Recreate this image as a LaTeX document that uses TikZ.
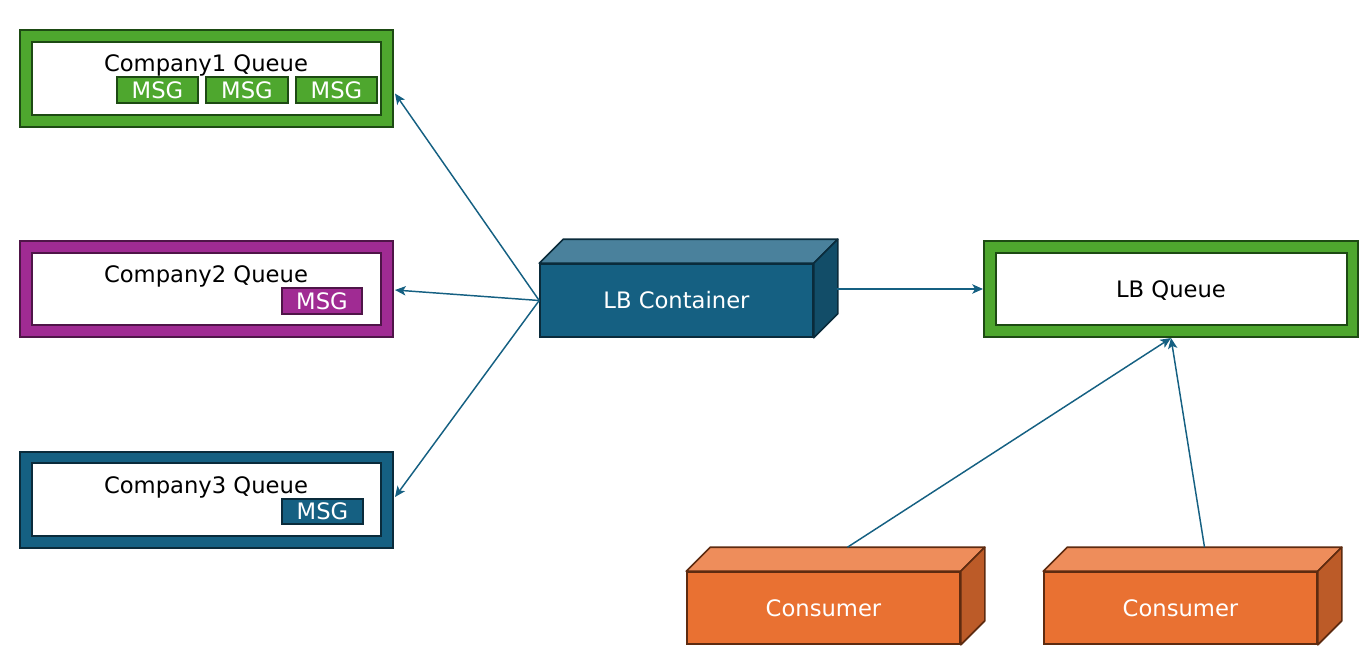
\documentclass[tikz,border=0pt]{standalone}
\usepackage{fontspec}
\setmainfont{DejaVu Sans}
\usetikzlibrary{fit,arrows.meta,calc}
\definecolor{qgreen}{HTML}{4EA72E}
\definecolor{qgreenD}{HTML}{1D4A13}
\definecolor{qpurple}{HTML}{A02B93}
\definecolor{qpurpleD}{HTML}{4F1548}
\definecolor{qblue}{HTML}{156082}
\definecolor{qblueD}{HTML}{0A2B3B}
\definecolor{qblueT}{HTML}{4A819C}
\definecolor{qblueR}{HTML}{124D68}
\definecolor{corange}{HTML}{E97132}
\definecolor{corangeT}{HTML}{EE8D5B}
\definecolor{corangeR}{HTML}{BC5B28}
\definecolor{corangeD}{HTML}{5E2B10}
\definecolor{arrowc}{HTML}{156082}
\begin{document}
\begin{tikzpicture}[x=0.75pt,y=-0.75pt,
  every node/.style={font=\fontsize{17}{20}\selectfont},
  outerq/.style 2 args={draw=#2, fill=#1, line width=1.5pt, inner sep=0pt},
  innerq/.style={draw=#1, fill=white, line width=1.5pt, inner sep=0pt},
  msgbox/.style 2 args={draw=#2, fill=#1, line width=1.5pt, inner sep=0pt},
  qlabel/.style={inner sep=0pt, text=black},
  wlabel/.style={inner sep=0pt, text=white},
  front/.style 2 args={draw=#2, fill=#1, line width=1.2pt, inner sep=0pt},
  face/.style 2 args={draw=#2, fill=#1, line width=1.2pt, line join=round},
  arr/.style={draw=arrowc, line width=1.1pt, -{Stealth[length=8pt,width=7pt,inset=2pt]}}
]
\path[use as bounding box] (0,0) rectangle (1363,661);

% Company1
\node[outerq={qgreen}{qgreenD}, fit={(20,30)(393,127)}] (c1) {};
\node[innerq=qgreenD, fit={(32,42)(381,115)}] (c1i) {};
\node[qlabel, anchor=base] (t1) at (206,71) {Company1 Queue};
\node[msgbox={qgreen}{qgreenD}, fit={(117,77)(198,103)}] (m11) {};
\node[msgbox={qgreen}{qgreenD}, fit={(206,77)(288,103)}] (m12) {};
\node[msgbox={qgreen}{qgreenD}, fit={(296,77)(377,103)}] (m13) {};
\node[wlabel] (m11t) at (m11.center) {MSG};
\node[wlabel] (m12t) at (m12.center) {MSG};
\node[wlabel] (m13t) at (m13.center) {MSG};

% Company2
\node[outerq={qpurple}{qpurpleD}, fit={(20,241)(393,337)}] (c2) {};
\node[innerq=qpurpleD, fit={(32,253)(381,325)}] (c2i) {};
\node[qlabel, anchor=base] (t2) at (206,282) {Company2 Queue};
\node[msgbox={qpurple}{qpurpleD}, fit={(282,288)(362,314)}] (m21) {};
\node[wlabel] (m21t) at (m21.center) {MSG};

% Company3
\node[outerq={qblue}{qblueD}, fit={(20,452)(393,548)}] (c3) {};
\node[innerq=qblueD, fit={(32,463)(381,536)}] (c3i) {};
\node[qlabel, anchor=base] (t3) at (206,493) {Company3 Queue};
\node[msgbox={qblue}{qblueD}, fit={(282,499)(363,524)}] (m31) {};
\node[wlabel] (m31t) at (m31.center) {MSG};

% LB Queue
\node[outerq={qgreen}{qgreenD}, fit={(984,241)(1358,337)}] (lbq) {};
\node[innerq=qgreenD, fit={(996,253)(1347,325)}] (lbqi) {};
\node[qlabel, anchor=base] (lbqt) at (1171,297) {LB Queue};

% LB Container
\node[front={qblue}{qblueD}, fit={(540,264)(813,337)}] (lb) {};
\draw[face={qblueT}{qblueD}] (lb.north west) -- ++(24,-24) -- ($(lb.north east)+(24,-24)$) -- (lb.north east) -- cycle;
\draw[face={qblueR}{qblueD}] (lb.north east) -- ++(24,-24) -- ($(lb.south east)+(24,-24)$) -- (lb.south east) -- cycle;
\node[wlabel] (lbt) at (lb.center) {LB Container};
\coordinate (lbr) at (837,289);

% Consumers
\node[front={corange}{corangeD}, fit={(687,572)(960,644)}] (cons1) {};
\draw[face={corangeT}{corangeD}] (cons1.north west) -- ++(24,-24) -- ($(cons1.north east)+(24,-24)$) -- (cons1.north east) -- cycle;
\draw[face={corangeR}{corangeD}] (cons1.north east) -- ++(24,-24) -- ($(cons1.south east)+(24,-24)$) -- (cons1.south east) -- cycle;
\node[wlabel] (cons1l) at (cons1.center) {Consumer};
\coordinate (cons1t) at ($(cons1.north)+(24,-24)$);

\node[front={corange}{corangeD}, fit={(1044,572)(1317,644)}] (cons2) {};
\draw[face={corangeT}{corangeD}] (cons2.north west) -- ++(24,-24) -- ($(cons2.north east)+(24,-24)$) -- (cons2.north east) -- cycle;
\draw[face={corangeR}{corangeD}] (cons2.north east) -- ++(24,-24) -- ($(cons2.south east)+(24,-24)$) -- (cons2.south east) -- cycle;
\node[wlabel] (cons2l) at (cons2.center) {Consumer};
\coordinate (cons2t) at ($(cons2.north)+(24,-24)$);

% Arrows
\draw[arr] (lb.west) -- ($(c1.east)+(1,15)$);
\draw[arr] (lb.west) -- ($(c2.east)+(1,1)$);
\draw[arr] (lb.west) -- ($(c3.east)+(1,-3)$);
\draw[arr] (lbr) -- (lbq.west);
\draw[arr] (cons1t) -- (lbq.south);
\draw[arr] (cons2t) -- (lbq.south);
\end{tikzpicture}
\end{document}
